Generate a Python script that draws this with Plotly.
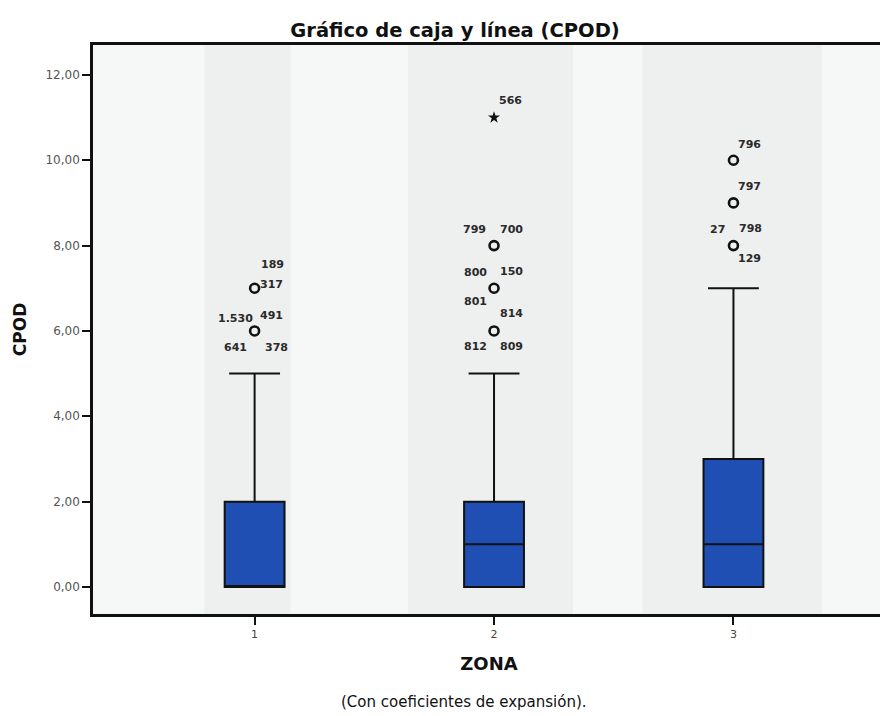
import plotly.graph_objects as go

# ---- data ----
zonas = [1, 2, 3]
q1 = [0, 0, 0]
medianas = [0, 1, 1]
q3 = [2, 2, 3]
bigote_inf = [0, 0, 0]
bigote_sup = [5, 5, 7]

# outliers (circles)
out_x = [1, 1, 2, 2, 2, 3, 3, 3]
out_y = [7, 6, 8, 7, 6, 10, 9, 8]
# extreme (star)
ext_x = [2]
ext_y = [11]

# case labels
lab_x = [1, 1, 1, 1, 1, 1,
         2, 2, 2, 2, 2, 2, 2, 2, 2,
         3, 3, 3, 3, 3]
lab_y = [7, 7, 6, 6, 6, 6,
         11, 8, 8, 7, 7, 7, 6, 6, 6,
         10, 9, 8, 8, 8]
lab_txt = ["189", "317", "1.530", "491", "641", "378",
           "566", "799", "700", "800", "150", "801", "814", "812", "809",
           "796", "797", "27", "798", "129"]
lab_dx = [18, 17, -19, 17, -19, 22,
          16, -20, 17, -19, 17, -19, 17, -19, 17,
          16, 16, -16, 17, 16]
lab_dy = [24, 4, 12, 15, -17, -17,
          17, 16, 16, 16, 17, -13, 17, -16, -16,
          16, 16, 16, 17, -13]

y_ticks = [0, 2, 4, 6, 8, 10, 12]
y_ticktext = ["0,00", "2,00", "4,00", "6,00", "8,00", "10,00", "12,00"]

FONT = "DejaVu Sans, Liberation Sans, Arial, sans-serif"

fig = go.Figure()

# subtle scan bands
for x0, x1 in [(0.79, 1.15), (1.64, 2.33), (2.62, 3.37)]:
    fig.add_shape(type="rect", xref="x", yref="paper", x0=x0, x1=x1, y0=0, y1=1,
                  fillcolor="#eef0f0", line_width=0, layer="below")

fig.add_trace(go.Box(
    x=zonas, q1=q1, median=medianas, q3=q3,
    lowerfence=bigote_inf, upperfence=bigote_sup,
    width=0.25, whiskerwidth=0.85,
    fillcolor="#1f4fb3", line=dict(color="#111111", width=2),
    boxpoints=False, showlegend=False, hoverinfo="skip",
))

fig.add_trace(go.Scatter(
    x=out_x, y=out_y, mode="markers",
    marker=dict(symbol="circle-open", size=9, color="#111111", line=dict(width=2.6)),
    showlegend=False, hoverinfo="skip",
))
fig.add_trace(go.Scatter(
    x=ext_x, y=ext_y, mode="markers",
    marker=dict(symbol="star", size=9, color="#111111"),
    showlegend=False, hoverinfo="skip",
))

for x, y, t, dx, dy in zip(lab_x, lab_y, lab_txt, lab_dx, lab_dy):
    fig.add_annotation(x=x, y=y, text="<b>" + t + "</b>", showarrow=False, xshift=dx, yshift=dy,
                       font=dict(family=FONT, size=11, color="#2a2a2a"))

fig.update_layout(
    width=880, height=708,
    margin=dict(l=85, r=0, t=37, b=102),
    paper_bgcolor="white",
    plot_bgcolor="#f6f7f7",
    title=dict(text="<b>Gráfico de caja y línea (CPOD)</b>", x=0.508, xanchor="center",
               y=0.969, yanchor="middle",
               font=dict(family=FONT, size=19.5, color="#111111")),
    font=dict(family=FONT),
)

fig.update_xaxes(
    range=[0.325, 3.633], tickvals=zonas, ticktext=[str(z) for z in zonas],
    ticks="outside", ticklen=8, tickwidth=2, tickcolor="#111111",
    showgrid=False, zeroline=False,
    showline=True, linewidth=2.5, linecolor="#111111", mirror=True,
    tickfont=dict(family=FONT, size=11, color="#444444"),
    title=dict(text="<b>ZONA</b>", font=dict(family=FONT, size=18, color="#111111"), standoff=18),
)
fig.update_yaxes(
    range=[-0.633, 12.70], tickvals=y_ticks, ticktext=y_ticktext,
    ticks="outside", ticklen=8, tickwidth=2, tickcolor="#111111",
    showgrid=False, zeroline=False,
    showline=True, linewidth=2.5, linecolor="#111111", mirror=True,
    tickfont=dict(family=FONT, size=12, color="#555555"),
    title=dict(text="<b>CPOD</b>", font=dict(family=FONT, size=17, color="#111111"), standoff=15),
)

fig.add_annotation(xref="paper", yref="paper", x=0.468, y=-0.155, xanchor="center",
                   yanchor="middle",
                   text="(Con coeficientes de expansión).", showarrow=False,
                   font=dict(family=FONT, size=15, color="#111111"))

fig.write_html("out.html")
